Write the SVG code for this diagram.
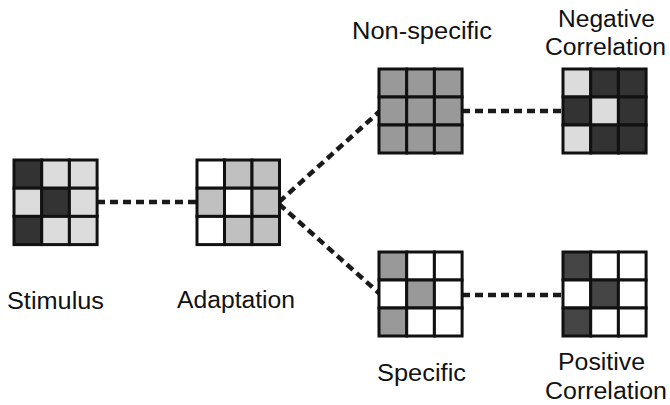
<svg xmlns="http://www.w3.org/2000/svg" width="670" height="405" viewBox="0 0 670 405">
<style>
.c{stroke:#111;stroke-width:3}
.D{fill:#333}
.P{fill:#454545}
.L{fill:#dcdcdc}
.W{fill:#fff}
.G{fill:#c0c0c0}
.M{fill:#999}
.lbl{font-family:"Liberation Sans",Arial,sans-serif;font-size:23.5px;fill:#111}
.dash{stroke:#1a1a1a;stroke-width:4.5;stroke-dasharray:8 5;fill:none}
</style>
<rect width="670" height="405" fill="#fff"/>
<g id="connectors">
<line class="dash" x1="97" y1="202" x2="197" y2="202"/>
<line class="dash" x1="279" y1="202" x2="380" y2="111"/>
<line class="dash" x1="279" y1="204" x2="380" y2="294"/>
<line class="dash" x1="462" y1="111" x2="563" y2="111"/>
<line class="dash" x1="462" y1="295" x2="563" y2="295"/>
</g>
<g id="stimulus" transform="translate(14,160)">
<rect class="c D" x="0" y="0" width="27.7" height="28.2"/><rect class="c L" x="27.7" y="0" width="27.7" height="28.2"/><rect class="c L" x="55.4" y="0" width="27.7" height="28.2"/>
<rect class="c L" x="0" y="28.2" width="27.7" height="28.2"/><rect class="c D" x="27.7" y="28.2" width="27.7" height="28.2"/><rect class="c L" x="55.4" y="28.2" width="27.7" height="28.2"/>
<rect class="c D" x="0" y="56.4" width="27.7" height="28.2"/><rect class="c L" x="27.7" y="56.4" width="27.7" height="28.2"/><rect class="c L" x="55.4" y="56.4" width="27.7" height="28.2"/>
<text class="lbl" x="-7" y="149" textLength="97" lengthAdjust="spacingAndGlyphs">Stimulus</text>
</g>
<g id="adaptation" transform="translate(197,160)">
<rect class="c W" x="0" y="0" width="27.5" height="28.2"/><rect class="c G" x="27.5" y="0" width="27.5" height="28.2"/><rect class="c G" x="55" y="0" width="27.5" height="28.2"/>
<rect class="c G" x="0" y="28.2" width="27.5" height="28.2"/><rect class="c W" x="27.5" y="28.2" width="27.5" height="28.2"/><rect class="c G" x="55" y="28.2" width="27.5" height="28.2"/>
<rect class="c W" x="0" y="56.4" width="27.5" height="28.2"/><rect class="c G" x="27.5" y="56.4" width="27.5" height="28.2"/><rect class="c G" x="55" y="56.4" width="27.5" height="28.2"/>
<text class="lbl" x="-20" y="148" textLength="118" lengthAdjust="spacingAndGlyphs">Adaptation</text>
</g>
<g id="nonspecific" transform="translate(379,69)">
<rect class="c M" x="0" y="0" width="27.7" height="28"/><rect class="c M" x="27.7" y="0" width="27.7" height="28"/><rect class="c M" x="55.4" y="0" width="27.7" height="28"/>
<rect class="c M" x="0" y="28" width="27.7" height="28"/><rect class="c M" x="27.7" y="28" width="27.7" height="28"/><rect class="c M" x="55.4" y="28" width="27.7" height="28"/>
<rect class="c M" x="0" y="56" width="27.7" height="28"/><rect class="c M" x="27.7" y="56" width="27.7" height="28"/><rect class="c M" x="55.4" y="56" width="27.7" height="28"/>
<text class="lbl" x="-27" y="-30" textLength="140" lengthAdjust="spacingAndGlyphs">Non-specific</text>
</g>
<g id="negative" transform="translate(563,69)">
<rect class="c L" x="0" y="0" width="27.7" height="28"/><rect class="c D" x="27.7" y="0" width="27.7" height="28"/><rect class="c D" x="55.4" y="0" width="27.7" height="28"/>
<rect class="c D" x="0" y="28" width="27.7" height="28"/><rect class="c L" x="27.7" y="28" width="27.7" height="28"/><rect class="c D" x="55.4" y="28" width="27.7" height="28"/>
<rect class="c L" x="0" y="56" width="27.7" height="28"/><rect class="c D" x="27.7" y="56" width="27.7" height="28"/><rect class="c D" x="55.4" y="56" width="27.7" height="28"/>
<text class="lbl" x="-5" y="-42" textLength="97" lengthAdjust="spacingAndGlyphs">Negative</text>
<text class="lbl" x="-18" y="-14" textLength="121" lengthAdjust="spacingAndGlyphs">Correlation</text>
</g>
<g id="specific" transform="translate(379,252)">
<rect class="c M" x="0" y="0" width="27.7" height="28"/><rect class="c W" x="27.7" y="0" width="27.7" height="28"/><rect class="c W" x="55.4" y="0" width="27.7" height="28"/>
<rect class="c W" x="0" y="28" width="27.7" height="28"/><rect class="c M" x="27.7" y="28" width="27.7" height="28"/><rect class="c W" x="55.4" y="28" width="27.7" height="28"/>
<rect class="c M" x="0" y="56" width="27.7" height="28"/><rect class="c W" x="27.7" y="56" width="27.7" height="28"/><rect class="c W" x="55.4" y="56" width="27.7" height="28"/>
<text class="lbl" x="-2" y="129" textLength="89" lengthAdjust="spacingAndGlyphs">Specific</text>
</g>
<g id="positive" transform="translate(563,252)">
<rect class="c P" x="0" y="0" width="27.7" height="28"/><rect class="c W" x="27.7" y="0" width="27.7" height="28"/><rect class="c W" x="55.4" y="0" width="27.7" height="28"/>
<rect class="c W" x="0" y="28" width="27.7" height="28"/><rect class="c P" x="27.7" y="28" width="27.7" height="28"/><rect class="c W" x="55.4" y="28" width="27.7" height="28"/>
<rect class="c P" x="0" y="56" width="27.7" height="28"/><rect class="c W" x="27.7" y="56" width="27.7" height="28"/><rect class="c W" x="55.4" y="56" width="27.7" height="28"/>
<text class="lbl" x="-5" y="118" textLength="87" lengthAdjust="spacingAndGlyphs">Positive</text>
<text class="lbl" x="-18" y="147" textLength="122" lengthAdjust="spacingAndGlyphs">Correlation</text>
</g>
</svg>
